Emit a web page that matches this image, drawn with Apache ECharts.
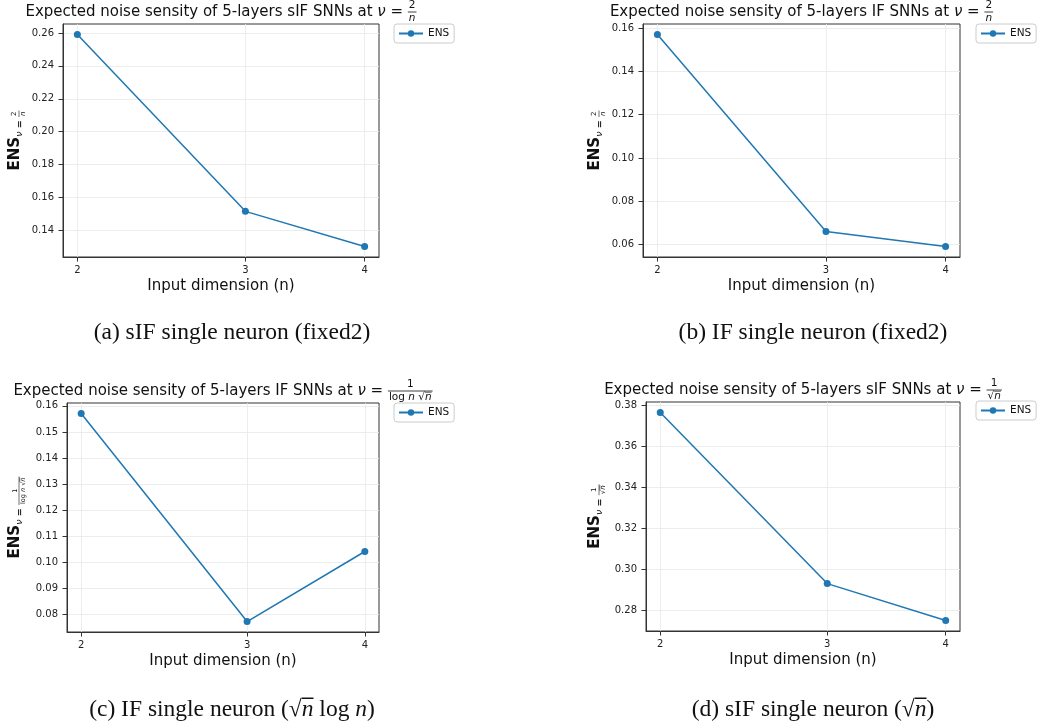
<!DOCTYPE html>
<html>
<head>
<meta charset="utf-8">
<title>Expected noise sensitivity of 5-layer SNNs</title>
<script src="https://cdn.jsdelivr.net/npm/echarts@6/dist/echarts.min.js"></script>
<style>
  html, body { margin: 0; padding: 0; background: #ffffff; }
  #chart { width: 1039px; height: 728px; }
</style>
</head>
<body>
<div id="chart"></div>
<script>
// Input dimensions (x values, also the x tick labels)
const inputDims = [2, 3, 4];

// Expected noise sensitivity per input dimension
const ensSifFixed2 = [0.259, 0.1516, 0.1303];   // (a) sIF, nu = 2/n
const ensIfFixed2  = [0.157, 0.066, 0.0591];    // (b) IF,  nu = 2/n
const ensIfSqrtLog = [0.1571, 0.0772, 0.1041];  // (c) IF,  nu = 1/(log n sqrt n)
const ensSifSqrt   = [0.3765, 0.2932, 0.2752];  // (d) sIF, nu = 1/sqrt n

// Y tick labels of each panel
const yTicksA = [0.14, 0.16, 0.18, 0.20, 0.22, 0.24, 0.26];
const yTicksB = [0.06, 0.08, 0.10, 0.12, 0.14, 0.16];
const yTicksC = [0.08, 0.09, 0.10, 0.11, 0.12, 0.13, 0.14, 0.15, 0.16];
const yTicksD = [0.28, 0.30, 0.32, 0.34, 0.36, 0.38];

const LINE_BLUE = '#1f77b4';
const INK = '#111111';
const SANS = 'DejaVu Sans';
const SERIF = '"Liberation Serif", "Times New Roman", serif';

// Autoscale with 5% padding, like the default plotting margins
function padRange(vals) {
  const lo = Math.min(...vals), hi = Math.max(...vals);
  const m = (hi - lo) * 0.05;
  return [lo - m, hi + m];
}
const lnLo = Math.log(Math.min(...inputDims)), lnHi = Math.log(Math.max(...inputDims));
const xMin = Math.exp(lnLo - (lnHi - lnLo) * 0.05);
const xMax = Math.exp(lnHi + (lnHi - lnLo) * 0.05);

// ---- small text layout helper for titles, labels with fractions, captions ----
const measureCtx = document.createElement('canvas').getContext('2d');
function textWidth(it) {
  measureCtx.font = (it.italic ? 'italic ' : 'normal ') + (it.bold ? 'bold ' : 'normal ') + it.size + 'px ' + it.family;
  return measureCtx.measureText(it.t).width;
}
function buildRow(items, base) {
  const parts = items.map(raw => {
    if (raw.num) {
      const size = raw.size;
      const b = Object.assign({}, base, { size: size, bold: false });
      const num = buildRow(raw.num, b), den = buildRow(raw.den, b);
      const w = Math.max(num.width, den.width) + 2;
      return {
        width: w,
        place(x, y, out) {
          const ly = y + (raw.dy || 0);
          num.place(x + (w - num.width) / 2, ly - size * 0.62, out);
          den.place(x + (w - den.width) / 2, ly + size * 0.62, out);
          out.push({ type: 'line', shape: { x1: x, y1: ly, x2: x + w, y2: ly },
            style: { stroke: base.color, lineWidth: Math.max(0.6, size / 13) } });
        }
      };
    }
    const it = Object.assign({}, base, raw);
    const w = textWidth(it);
    return {
      width: w,
      place(x, y, out) {
        const ty = y + (it.dy || 0);
        out.push({ type: 'text', x: x, y: ty, style: {
          text: it.t, fontSize: it.size, fontFamily: it.family,
          fontStyle: it.italic ? 'italic' : 'normal', fontWeight: it.bold ? 'bold' : 'normal',
          fill: it.color, align: 'left', verticalAlign: 'middle' } });
        if (it.bar) {
          const by = ty - it.size * 0.5;
          out.push({ type: 'line', shape: { x1: x, y1: by, x2: x + w, y2: by },
            style: { stroke: it.color, lineWidth: Math.max(0.6, it.size / 16) } });
        }
      }
    };
  });
  const width = parts.reduce((s, p) => s + p.width, 0);
  return {
    width,
    place(x, y, out) {
      let cx = x;
      parts.forEach(p => { p.place(cx, y, out); cx += p.width; });
    }
  };
}
function centeredGroup(items, base, cx, cy, rotation) {
  const row = buildRow(items, base);
  const out = [];
  row.place(-row.width / 2, 0, out);
  return { type: 'group', x: cx, y: cy, rotation: rotation || 0, silent: true, children: out };
}

const titleBase = { size: 15, family: SANS, color: INK };
const ylabelBase = { size: 15, family: SANS, color: INK, bold: true };
const captionBase = { size: 23.5, family: SERIF, color: INK };

const fracTwoOverN = s => ({ num: [{ t: '2' }], den: [{ t: 'n', italic: true }], size: s });
const fracOneOverSqrtN = s => ({ num: [{ t: '1' }], den: [{ t: '√' }, { t: 'n', italic: true, bar: true }], size: s });
const fracOneOverLogSqrt = s => ({ num: [{ t: '1' }],
  den: [{ t: 'log ' }, { t: 'n', italic: true }, { t: ' √' }, { t: 'n', italic: true, bar: true }], size: s });

function titleItems(model, frac) {
  return [{ t: 'Expected noise sensity of 5-layers ' + model + ' SNNs at ' }, { t: 'ν', italic: true }, { t: ' = ' }, frac];
}
function ylabelItems(frac) {
  return [{ t: 'ENS' }, { t: 'ν', italic: true, bold: false, size: 9.5, dy: 4.5 }, { t: ' = ', size: 9.5, dy: 4.5 },
    Object.assign(frac, { dy: 4 })];
}

const panels = [
  { vals: ensSifFixed2, yTicks: yTicksA, grid: { left: 63, top: 24, width: 316, height: 233 },
    legend: { left: 394, top: 24 }, ylabelX: 15,
    title: titleItems('sIF', fracTwoOverN(10.5)), ylabel: ylabelItems(fracTwoOverN(7)),
    caption: [{ t: '(a) sIF single neuron (fixed2)' }], captionPos: [232, 333] },
  { vals: ensIfFixed2, yTicks: yTicksB, grid: { left: 643, top: 24, width: 317, height: 233 },
    legend: { left: 976, top: 24 }, ylabelX: 595,
    title: titleItems('IF', fracTwoOverN(10.5)), ylabel: ylabelItems(fracTwoOverN(7)),
    caption: [{ t: '(b) IF single neuron (fixed2)' }], captionPos: [813, 333] },
  { vals: ensIfSqrtLog, yTicks: yTicksC, grid: { left: 67, top: 403, width: 312, height: 229 },
    legend: { left: 394, top: 403 }, ylabelX: 15,
    title: titleItems('IF', fracOneOverLogSqrt(10.5)), ylabel: ylabelItems(fracOneOverLogSqrt(6.5)),
    caption: [{ t: '(c) IF single neuron (' }, { t: '√' }, { t: 'n', italic: true, bar: true },
      { t: ' log ' }, { t: 'n', italic: true }, { t: ')' }], captionPos: [232, 710] },
  { vals: ensSifSqrt, yTicks: yTicksD, grid: { left: 646, top: 402, width: 314, height: 229 },
    legend: { left: 976, top: 401 }, ylabelX: 595,
    title: titleItems('sIF', fracOneOverSqrtN(10.5)), ylabel: ylabelItems(fracOneOverSqrtN(7)),
    caption: [{ t: '(d) sIF single neuron (' }, { t: '√' }, { t: 'n', italic: true, bar: true }, { t: ')' }],
    captionPos: [813, 710] }
];

const graphics = [];
panels.forEach(p => {
  const g = p.grid;
  const cx = g.left + g.width / 2, cy = g.top + g.height / 2;
  graphics.push(centeredGroup(p.title, titleBase, cx, g.top - 12, 0));
  graphics.push(centeredGroup(p.ylabel, ylabelBase, p.ylabelX, cy, Math.PI / 2));
  graphics.push(centeredGroup(p.caption, captionBase, p.captionPos[0], p.captionPos[1], 0));
});

const option = {
  animation: false,
  backgroundColor: '#ffffff',
  textStyle: { fontFamily: SANS },
  grid: panels.map(p => Object.assign({
    show: true, borderColor: '#333333', borderWidth: 1, backgroundColor: 'transparent',
    containLabel: false, outerBoundsMode: 'none'
  }, p.grid)),
  xAxis: panels.map((p, i) => ({
    gridIndex: i, type: 'log', logBase: 10, min: xMin, max: xMax,
    axisLine: { show: true, onZero: false, lineStyle: { color: '#333333', width: 1 } },
    axisTick: { show: true, length: 4.5, customValues: inputDims, lineStyle: { color: '#333333' } },
    axisLabel: { customValues: inputDims, fontSize: 10, color: '#222222', margin: 8,
      formatter: v => String(Math.round(v)) },
    minorTick: { show: false }, minorSplitLine: { show: false },
    splitLine: { show: true, lineStyle: { color: '#e8e8e8', width: 0.8 } },
    name: 'Input dimension (n)', nameLocation: 'middle', nameGap: 22,
    nameTextStyle: { fontSize: 15, color: INK, fontFamily: SANS }
  })),
  yAxis: panels.map((p, i) => {
    const r = padRange(p.vals);
    return {
      gridIndex: i, type: 'value', min: r[0], max: r[1], scale: true,
      axisLine: { show: true, lineStyle: { color: '#333333', width: 1 } },
      axisTick: { show: true, length: 4.5, customValues: p.yTicks, lineStyle: { color: '#333333' } },
      axisLabel: { customValues: p.yTicks, fontSize: 10, color: '#222222', margin: 9,
        formatter: v => v.toFixed(2) },
      splitLine: { show: true, lineStyle: { color: '#e8e8e8', width: 0.8 } }
    };
  }),
  legend: panels.map(p => ({
    data: ['ENS'], left: p.legend.left, top: p.legend.top, orient: 'vertical',
    padding: [4, 5, 4, 4], itemWidth: 24, itemHeight: 8, itemGap: 4,
    borderColor: '#cccccc', borderWidth: 1, borderRadius: 3, backgroundColor: '#ffffff',
    textStyle: { fontSize: 10.5, color: INK, fontFamily: SANS }
  })),
  series: panels.map((p, i) => ({
    type: 'line', name: 'ENS', xAxisIndex: i, yAxisIndex: i,
    data: inputDims.map((n, k) => [n, p.vals[k]]),
    color: LINE_BLUE, symbol: 'circle', symbolSize: 7, showSymbol: true,
    lineStyle: { color: LINE_BLUE, width: 1.5 },
    itemStyle: { color: LINE_BLUE },
    emphasis: { disabled: true }
  })),
  graphic: graphics
};

const chart = echarts.init(document.getElementById('chart'), null, { renderer: 'canvas' });
chart.setOption(option);
</script>
</body>
</html>
